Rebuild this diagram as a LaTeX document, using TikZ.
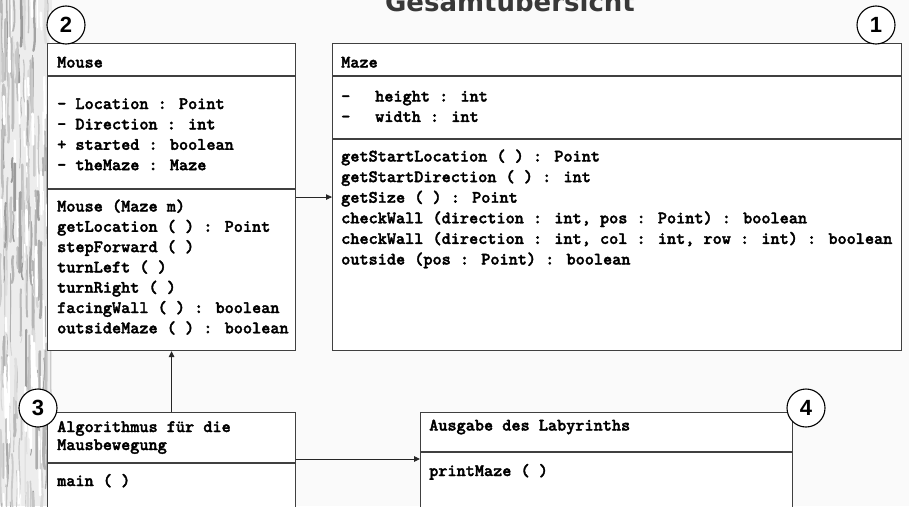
\documentclass[tikz,border=0pt]{standalone}
\usepackage{fontspec}
\setmainfont{Liberation Sans}
\newfontfamily\titlefont{DejaVu Sans}
\newfontfamily\codefont{lmmonolt10-bold.otf}[FakeBold=2]
\usetikzlibrary{arrows.meta}

\begin{document}
\begin{tikzpicture}[x=1pt,y=-1pt,
  umlbox/.style={draw=black!75, line width=1.1pt, fill=white, rectangle,
    inner sep=0pt, anchor=north west},
  sepline/.style={draw=black!75, line width=1.1pt},
  code/.style={font=\codefont\fontsize{17.4}{18}\selectfont,
    anchor=base west, inner sep=0pt, text=black},
  tag/.style={circle, draw=black, line width=1.1pt, fill=white,
    minimum size=38pt, inner sep=0pt, font=\bfseries\fontsize{22}{22}\selectfont},
  link/.style={draw=black!85, line width=0.9pt, -{Triangle[length=6pt,width=5.5pt]}},
]
% page and background
\useasboundingbox (0,0) rectangle (909,506);
\clip (0,0) rectangle (909,506);
\fill[white!98!black] (0,0) rectangle (909,506);

% bark-like strip along the left edge
\begin{scope}
  \clip (0,0) rectangle (52,506);
  \fill[white!93!black] (0,0) rectangle (52,506);
  \pgfmathsetseed{42}
  \foreach \i in {1,...,170}{
    \pgfmathsetmacro\xa{rnd*52}
    \pgfmathsetmacro\ya{rnd*540-20}
    \pgfmathsetmacro\len{20+rnd*60}
    \pgfmathsetmacro\g{12+rnd*28}
    \pgfmathsetmacro\w{0.6+rnd*2.2}
    \pgfmathsetmacro\dx{(rnd-0.5)*6}
    \draw[line width=\w pt, black!\g, line cap=round]
      (\xa,\ya) .. controls (\xa+\dx,\ya+\len/3) and (\xa-\dx,\ya+2*\len/3) .. (\xa+\dx/2,\ya+\len);
  }
  \foreach \i in {1,...,60}{
    \pgfmathsetmacro\xa{rnd*52}
    \pgfmathsetmacro\ya{rnd*540-20}
    \pgfmathsetmacro\len{10+rnd*40}
    \pgfmathsetmacro\w{0.8+rnd*2}
    \draw[line width=\w pt, white, line cap=round]
      (\xa,\ya) -- (\xa+0.5,\ya+\len);
  }
\end{scope}

% heading
\node[font=\titlefont\bfseries\fontsize{26}{26}\selectfont, text=black!78, anchor=base]
  (heading) at (510,11) {Gesamtübersicht};

% class Mouse
\node[umlbox, minimum width=248pt, minimum height=307pt] (mouse) at (47,43) {};
\draw[sepline] ([yshift=-33pt]mouse.north west) -- ([yshift=-33pt]mouse.north east);
\draw[sepline] ([yshift=-146pt]mouse.north west) -- ([yshift=-146pt]mouse.north east);
\node[code] (mousename) at (57,67.5) {Mouse};
\foreach \t [count=\k] in {{- Location : Point},{- Direction : int},{+ started : boolean},{- theMaze : Maze}}
  \node[code] (mouseattr\k) at (57,{109+20.4*(\k-1)}) {\t};
\foreach \t [count=\k] in {{Mouse (Maze m)},{getLocation ( ) : Point},{stepForward ( )},{turnLeft ( )},{turnRight ( )},{facingWall ( ) : boolean},{outsideMaze ( ) : boolean}}
  \node[code] (mouseop\k) at (57,{211.5+20.3*(\k-1)}) {\t};

% class Maze
\node[umlbox, minimum width=569pt, minimum height=307pt] (maze) at (332,43) {};
\draw[sepline] ([yshift=-33pt]maze.north west) -- ([yshift=-33pt]maze.north east);
\draw[sepline] ([yshift=-96pt]maze.north west) -- ([yshift=-96pt]maze.north east);
\node[code] (mazename) at (341,67.5) {Maze};
\foreach \t [count=\k] in {{height : int},{width : int}}{
  \node[code] (mazedash\k) at (341,{101.5+20.4*(\k-1)}) {-};
  \node[code] (mazeattr\k) at (375,{101.5+20.4*(\k-1)}) {\t};
}
\foreach \t [count=\k] in {{getStartLocation ( ) : Point},{getStartDirection ( ) : int},{getSize ( ) : Point},{checkWall (direction : int, pos : Point) : boolean},{checkWall (direction : int, col : int, row : int) : boolean},{outside (pos : Point) : boolean}}
  \node[code] (mazeop\k) at (341,{161.5+20.6*(\k-1)}) {\t};

% module Algorithmus
\node[umlbox, minimum width=248pt, minimum height=120pt] (algo) at (47,412) {};
\draw[sepline] ([yshift=-51pt]algo.north west) -- ([yshift=-51pt]algo.north east);
\node[code] (algoname1) at (57,432) {Algorithmus für die};
\node[code] (algoname2) at (57,450) {Mausbewegung};
\node[code] (algoop1) at (57,486) {main ( )};

% module Ausgabe
\node[umlbox, minimum width=372pt, minimum height=120pt] (ausg) at (420,412) {};
\draw[sepline] ([yshift=-40pt]ausg.north west) -- ([yshift=-40pt]ausg.north east);
\node[code] (ausgname) at (429,430.5) {Ausgabe des Labyrinths};
\node[code] (ausgop1) at (429,476) {printMaze ( )};

% dependencies
\draw[link] (mouse.east) -- (maze.west);
\draw[link] (algo.north) -- (mouse.south);
\draw[link] ([yshift=-47pt]algo.north east) -- ([yshift=-47pt]ausg.north west);

% numbered markers
\node[tag] (tag1) at (876,25) {1};
\node[tag] (tag2) at (66,25) {2};
\node[tag] (tag3) at (38,408) {3};
\node[tag] (tag4) at (806,408) {4};
\end{tikzpicture}
\end{document}
